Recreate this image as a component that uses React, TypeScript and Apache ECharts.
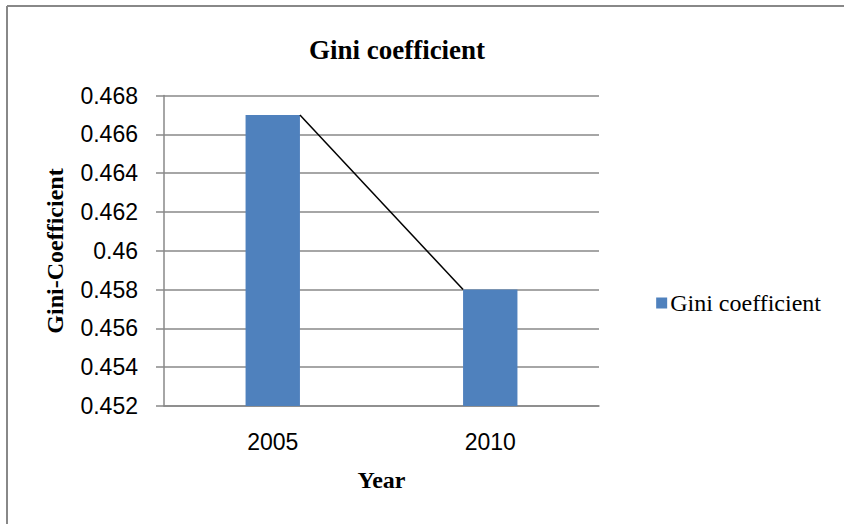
import React, { useEffect, useRef } from "react";
import * as echarts from "echarts";

const categories = ["2005", "2010"];
const giniValues = [0.467, 0.458];
const seriesName = "Gini coefficient";
const yMin = 0.452;
const yMax = 0.468;
const yStep = 0.002;

export default function App() {
  const ref = useRef<HTMLDivElement>(null);
  useEffect(() => {
    if (!ref.current) return;
    const chart = echarts.init(ref.current, null, { renderer: "svg" });
    const serif = "'Liberation Serif', 'Times New Roman', serif";
    const sans = "'Liberation Sans', Arial, sans-serif";
    chart.setOption({
      animation: false,
      backgroundColor: "#ffffff",
      title: {
        text: "Gini coefficient",
        left: 392,
        top: 45,
        textAlign: "center",
        textVerticalAlign: "middle",
        textStyle: { fontFamily: serif, fontWeight: "bold", fontSize: 27, color: "#000" },
      },
      legend: {
        data: [seriesName],
        right: 18,
        top: 286,
        itemWidth: 11,
        itemHeight: 11,
        itemGap: 4,
        icon: "rect",
        textStyle: { fontFamily: serif, fontSize: 24, color: "#000", padding: [0, 0, 0, -2] },
      },
      grid: { left: 164, right: 245, top: 95.5, bottom: 118, containLabel: false },
      xAxis: {
        type: "category",
        data: categories,
        axisLine: { lineStyle: { color: "#888", width: 1.5 } },
        axisTick: { show: false },
        axisLabel: { margin: 24, fontFamily: sans, fontSize: 23, color: "#000" },
      },
      yAxis: {
        type: "value",
        min: yMin,
        max: yMax,
        interval: yStep,
        axisLine: { show: true, lineStyle: { color: "#888", width: 1.5 } },
        axisTick: { show: true, length: 8, lineStyle: { color: "#888", width: 1.5 } },
        splitLine: { lineStyle: { color: "#888", width: 1.5 } },
        axisLabel: {
          margin: 26,
          fontFamily: sans,
          fontSize: 23,
          color: "#000",
          formatter: (v: number) => String(parseFloat(v.toFixed(3))),
        },
      },
      graphic: [
        { type: "line", shape: { x1: 7, y1: 6, x2: 844, y2: 6 }, style: { stroke: "#888", lineWidth: 2 } },
        { type: "line", shape: { x1: 7, y1: 6, x2: 7, y2: 524 }, style: { stroke: "#888", lineWidth: 2 } },
        {
          type: "text",
          x: 55,
          y: 251,
          rotation: Math.PI / 2,
          style: {
            text: "Gini-Coefficient",
            fontFamily: serif,
            fontWeight: "bold",
            fontSize: 24,
            fill: "#000",
            textAlign: "center",
            textVerticalAlign: "middle",
          },
        },
        {
          type: "text",
          x: 381.5,
          y: 480,
          style: {
            text: "Year",
            fontFamily: serif,
            fontWeight: "bold",
            fontSize: 24,
            fill: "#000",
            textAlign: "center",
            textVerticalAlign: "middle",
          },
        },
      ],
      series: [
        {
          name: seriesName,
          type: "bar",
          data: giniValues,
          barWidth: "25%",
          itemStyle: { color: "#4F81BD" },
        },
        {
          name: "connector",
          type: "custom",
          z: 5,
          data: [[0, giniValues[0], 1, giniValues[1]]],
          renderItem: (params: any, api: any) => {
            const p1 = api.coord([api.value(0), api.value(1)]);
            const p2 = api.coord([api.value(2), api.value(3)]);
            const half = (api.size([1, 0])[0] * 0.25) / 2;
            return {
              type: "line",
              shape: { x1: p1[0] + half, y1: p1[1], x2: p2[0] - half, y2: p2[1] },
              style: { stroke: "#000", lineWidth: 1.5 },
            };
          },
        },
      ],
    });
    return () => chart.dispose();
  }, []);
  return <div ref={ref} style={{ width: 844, height: 524, position: "absolute", left: 0, top: 0 }} />;
}
